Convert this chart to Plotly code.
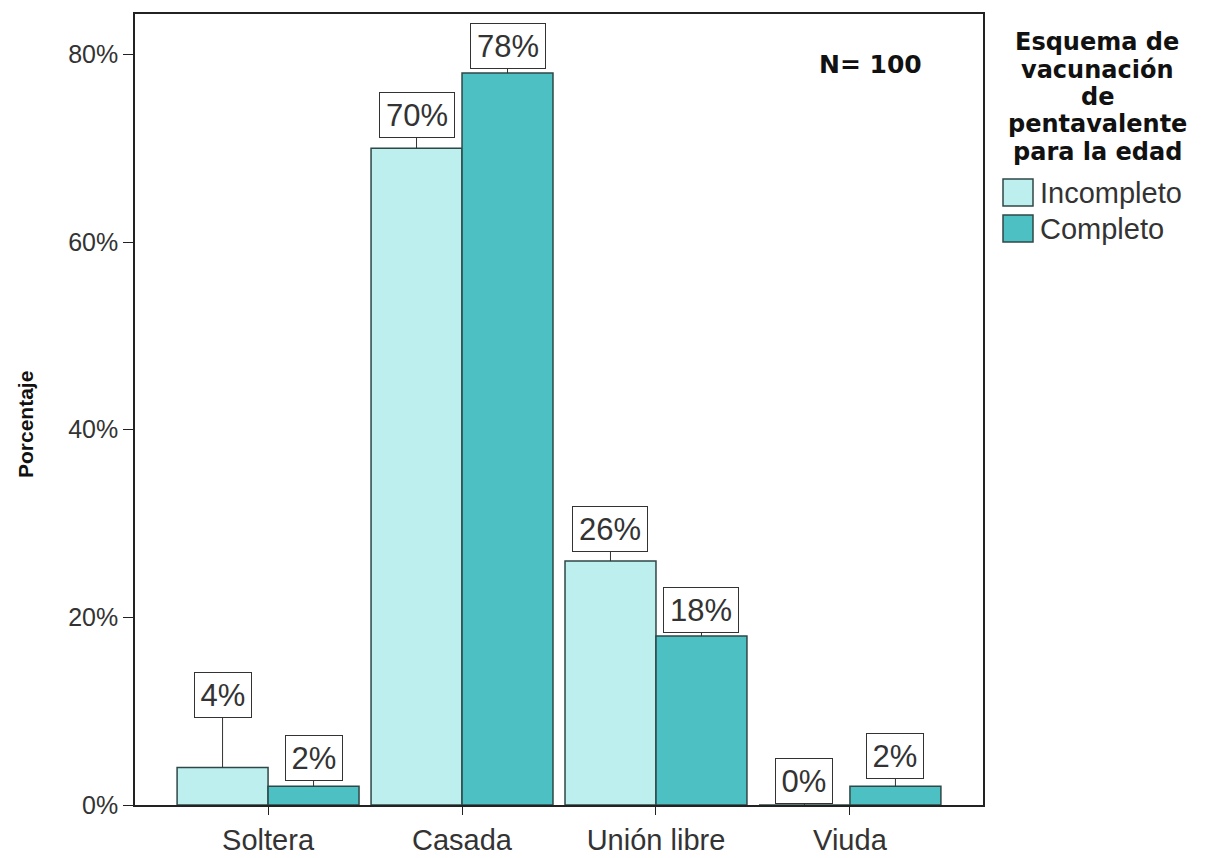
import plotly.graph_objects as go

# Estado civil de la madre vs. esquema de vacunación (porcentaje por grupo)
categorias = ["Soltera", "Casada", "Unión libre", "Viuda"]
incompleto = [4, 70, 26, 0]
completo = [2, 78, 18, 2]
series_nombres = ["Incompleto", "Completo"]
titulo_leyenda = ["Esquema de", "vacunación", "de", "pentavalente", "para la edad"]
y_ticks = [0, 20, 40, 60, 80]
y_tick_text = ["0%", "20%", "40%", "60%", "80%"]
titulo_y = "Porcentaje"
nota_n = "N= 100"

col_inc = "#bcefee"
col_comp = "#4cc0c3"
col_borde = "#2f4747"

W, H = 1211, 858
M_L, M_R, M_T, M_B = 135, 228, 14, 53
PW, PH = W - M_L - M_R, H - M_T - M_B


def px_x(px):
    return (px - M_L) / PW


def px_y(py):
    return (H - M_B - py) / PH


fig = go.Figure()
for nombre, valores, color in [(series_nombres[0], incompleto, col_inc),
                               (series_nombres[1], completo, col_comp)]:
    fig.add_trace(go.Bar(
        x=categorias, y=valores, name=nombre,
        marker=dict(color=color, line=dict(color=col_borde, width=1.5)),
        showlegend=False,
    ))

# Etiquetas de valor en recuadro, unidas a la barra con una línea
desplaz = {"Incompleto": -45.5, "Completo": 45.5}
alto_caja = {
    "Incompleto": [-72, -33, -32, -24],
    "Completo": [-28, -27, -26, -30],
}
for nombre, valores in [("Incompleto", incompleto), ("Completo", completo)]:
    for i, (cat, v) in enumerate(zip(categorias, valores)):
        txt = f"{v}%"
        fig.add_annotation(
            x=cat, y=v, xref="x", yref="y",
            xshift=desplaz[nombre],
            text=txt, showarrow=True, arrowhead=0, arrowwidth=1,
            arrowcolor="#333333", ax=0, ay=alto_caja[nombre][i],
            font=dict(family="Liberation Sans, Arial", size=31, color="#333333"),
            bordercolor="#333333", borderwidth=1, borderpad=2,
            bgcolor="white",
            width=70 if len(txt) == 3 else 52, height=40,
        )

fig.add_annotation(
    x=px_x(870), y=px_y(65), xref="paper", yref="paper",
    xanchor="center", yanchor="middle",
    text=f"<b>{nota_n}</b>", showarrow=False,
    font=dict(family="DejaVu Sans", size=25, color="#111111"),
)

# Título del eje Y
fig.add_annotation(
    x=px_x(25), y=px_y(425), xref="paper", yref="paper",
    xanchor="center", yanchor="middle", textangle=-90,
    text=f"<b>{titulo_y}</b>", showarrow=False,
    font=dict(family="Liberation Sans, Arial", size=21, color="#111111"),
)

# Leyenda dibujada a mano: título, muestras de color y nombres de serie
for k, linea in enumerate(titulo_leyenda):
    fig.add_annotation(
        x=px_x(1097), y=px_y(42 + 27.5 * k), xref="paper", yref="paper",
        xanchor="center", yanchor="middle",
        text=f"<b>{linea}</b>", showarrow=False,
        font=dict(family="DejaVu Sans", size=24, color="#111111"),
    )

for k, (nombre, color) in enumerate(zip(series_nombres, [col_inc, col_comp])):
    y0 = 179 + 36 * k
    fig.add_shape(
        type="rect", xref="paper", yref="paper",
        x0=px_x(1003), x1=px_x(1033), y0=px_y(y0), y1=px_y(y0 + 27),
        fillcolor=color, line=dict(color=col_borde, width=1.5),
    )
    fig.add_annotation(
        x=px_x(1038), y=px_y(y0 + 14), xref="paper", yref="paper",
        xanchor="left", yanchor="middle",
        text=nombre, showarrow=False,
        font=dict(family="Liberation Sans, Arial", size=29, color="#333333"),
    )

fig.update_layout(
    width=W, height=H,
    margin=dict(l=M_L, r=M_R, t=M_T, b=M_B, autoexpand=False),
    plot_bgcolor="white", paper_bgcolor="white",
    barmode="group", bargap=0.062, bargroupgap=0,
    font=dict(family="Liberation Sans, Arial", color="#333333"),
)
fig.update_xaxes(
    range=[-0.686, 3.686], showline=True, linecolor="#222222", linewidth=1.5,
    mirror=True, ticks="outside", ticklen=8, tickcolor="#222222",
    tickfont=dict(size=29, color="#333333"), showgrid=False, automargin=False,
)
fig.update_yaxes(
    range=[0, 84.3], tickvals=y_ticks, ticktext=y_tick_text,
    showline=True, linecolor="#222222", linewidth=1.5, mirror=True,
    ticks="outside", ticklen=10, tickcolor="#222222",
    tickfont=dict(size=25, color="#333333"), showgrid=False, zeroline=False,
    automargin=False,
)

fig.write_html("out.html")
